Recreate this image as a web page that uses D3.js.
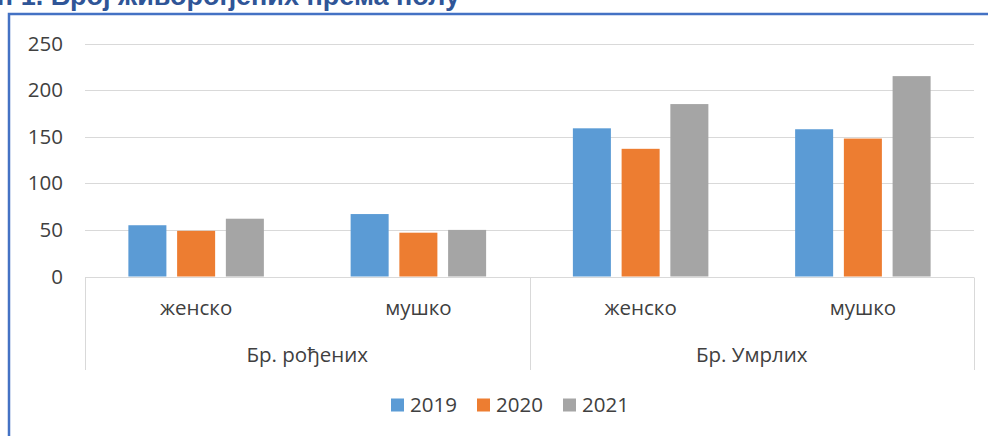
<!DOCTYPE html>
<meta charset="UTF-8">
<style>
body { margin: 0; background: #fff; }
text { font-family: "Open Sans", sans-serif; fill: #404040; }
.grid line { stroke: #d9d9d9; stroke-width: 1px; }
.box { stroke: #d9d9d9; stroke-width: 1px; fill: none; }
</style>
<body>
<script src="https://cdnjs.cloudflare.com/ajax/libs/d3/7.8.5/d3.min.js"></script>
<script>
// data
const groups = ["Бр. рођених", "Бр. Умрлих"];
const sexes = ["женско", "мушко"];
const years = ["2019", "2020", "2021"];
const v2019 = [55, 67, 159, 158];
const v2020 = [49, 47, 137, 148];
const v2021 = [62, 50, 185, 215];
const yTicks = [0, 50, 100, 150, 200, 250];
const colors = ["#5b9bd5", "#ed7d31", "#a5a5a5"];

const width = 988, height = 436;
const plot = {left: 85, right: 974, top: 43.5, bottom: 276.5, axisBottom: 370};
const labelSize = "20.5px";

// one row per category (group + sex)
const cats = [];
groups.forEach((g, gi) => sexes.forEach((s, si) => cats.push({group: g, sex: s, id: gi * 2 + si})));
const series = [v2019, v2020, v2021];

const svg = d3.select("body").append("svg")
    .attr("width", width)
    .attr("height", height);

// title sits above the frame, only its lower part is in view
svg.append("text")
    .attr("x", 460)
    .attr("y", 5)
    .attr("text-anchor", "end")
    .style("font-family", "'Liberation Sans', sans-serif")
    .style("font-weight", "bold")
    .style("font-size", "27px")
    .style("fill", "#2f5597")
    .text("Графикон 1. Број живорођених према полу");

svg.append("path")
    .attr("d", `M 9 ${height} V 14 H ${width}`)
    .attr("fill", "none")
    .attr("stroke", "#4472c4")
    .attr("stroke-width", 2.5);

const x = d3.scaleBand()
    .domain(cats.map(d => d.id))
    .range([plot.left, plot.right]);

const xYear = d3.scaleBand()
    .domain(years)
    .range([0, x.bandwidth()])
    .paddingInner(0.22)
    .paddingOuter(0.89);

const y = d3.scaleLinear()
    .domain([0, 250])
    .range([plot.bottom, plot.top]);

// gridlines
svg.append("g")
    .attr("class", "grid")
    .selectAll("line")
    .data(yTicks)
    .join("line")
    .attr("x1", plot.left)
    .attr("x2", plot.right)
    .attr("y1", d => Math.round(y(d)) + 0.5)
    .attr("y2", d => Math.round(y(d)) + 0.5);

// y labels
svg.append("g")
    .selectAll("text")
    .data(yTicks)
    .join("text")
    .attr("x", 63)
    .attr("y", d => y(d))
    .attr("dy", "0.35em")
    .attr("text-anchor", "end")
    .style("font-size", labelSize)
    .text(d => d);

// bars
const barGroups = svg.append("g")
    .selectAll("g")
    .data(cats)
    .join("g")
    .attr("transform", d => `translate(${x(d.id)},0)`);

barGroups.selectAll("rect")
    .data(d => years.map((yr, i) => ({year: yr, i: i, value: series[i][d.id]})))
    .join("rect")
    .attr("x", d => xYear(d.year))
    .attr("width", xYear.bandwidth())
    .attr("y", d => y(d.value))
    .attr("height", d => y(0) - y(d.value))
    .attr("fill", d => colors[d.i]);

// multi-level category axis box
const groupEdges = [plot.left, x(2), plot.right];
svg.append("g")
    .selectAll("line")
    .data(groupEdges)
    .join("line")
    .attr("class", "box")
    .attr("x1", d => Math.round(d) + 0.5)
    .attr("x2", d => Math.round(d) + 0.5)
    .attr("y1", Math.round(plot.bottom) + 0.5)
    .attr("y2", plot.axisBottom);

svg.append("g")
    .selectAll("text")
    .data(cats)
    .join("text")
    .attr("x", d => x(d.id) + x.bandwidth() / 2)
    .attr("y", 308)
    .attr("dy", "0.35em")
    .attr("text-anchor", "middle")
    .style("font-size", labelSize)
    .text(d => d.sex);

svg.append("g")
    .selectAll("text")
    .data(groups)
    .join("text")
    .attr("x", (d, i) => (groupEdges[i] + groupEdges[i + 1]) / 2)
    .attr("y", 355)
    .attr("dy", "0.35em")
    .attr("text-anchor", "middle")
    .style("font-size", labelSize)
    .text(d => d);

// legend
const legendX = [391, 477, 563];
const legend = svg.append("g")
    .selectAll("g")
    .data(years)
    .join("g")
    .attr("transform", (d, i) => `translate(${legendX[i]},405)`);

legend.append("rect")
    .attr("x", 0)
    .attr("y", -6.5)
    .attr("width", 13)
    .attr("height", 13)
    .attr("fill", (d, i) => colors[i]);

legend.append("text")
    .attr("x", 19)
    .attr("y", 0)
    .attr("dy", "0.35em")
    .style("font-size", labelSize)
    .text(d => d);
</script>
</body>
